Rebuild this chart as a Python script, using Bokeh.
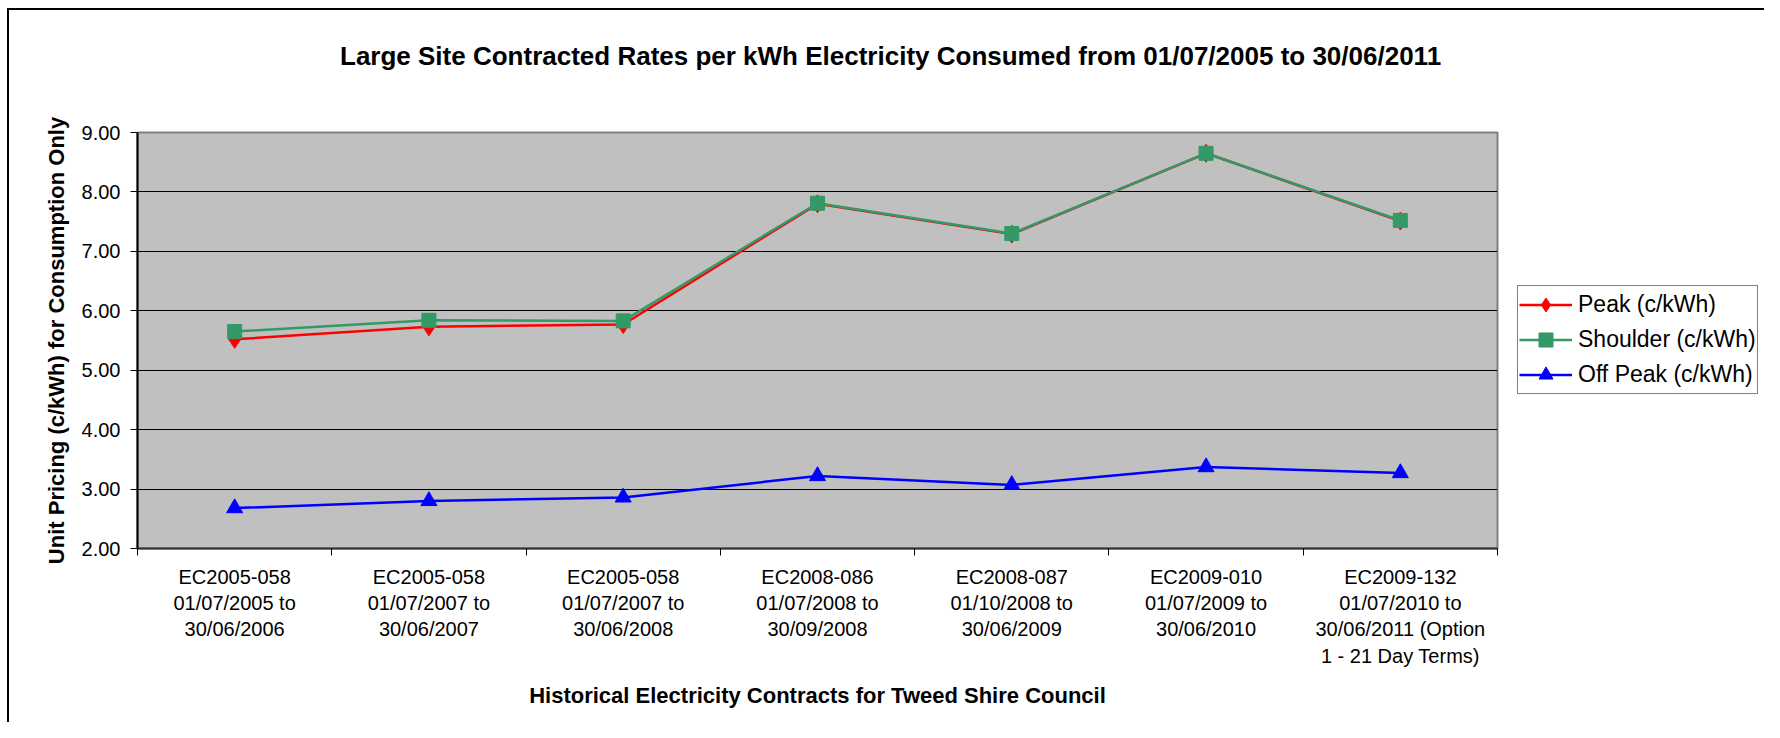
import numpy as np
from bokeh.plotting import figure
from bokeh.layouts import row, column
from bokeh.models import (Range1d, LinearAxis, FixedTicker, Div,
                          Legend, LegendItem, NumeralTickFormatter, ColumnDataSource)
from bokeh.embed import file_html
from bokeh.resources import INLINE

# ---------------- data ----------------
categories = [
    "EC2005-058\n01/07/2005 to\n30/06/2006",
    "EC2005-058\n01/07/2007 to\n30/06/2007",
    "EC2005-058\n01/07/2007 to\n30/06/2008",
    "EC2008-086\n01/07/2008 to\n30/09/2008",
    "EC2008-087\n01/10/2008 to\n30/06/2009",
    "EC2009-010\n01/07/2009 to\n30/06/2010",
    "EC2009-132\n01/07/2010 to\n30/06/2011 (Option\n1 - 21 Day Terms)",
]
peak = [5.52, 5.73, 5.77, 7.80, 7.29, 8.65, 7.51]
shoulder = [5.65, 5.84, 5.83, 7.81, 7.30, 8.65, 7.52]
off_peak = [2.68, 2.80, 2.86, 3.22, 3.07, 3.37, 3.27]
y_ticks = [2, 3, 4, 5, 6, 7, 8, 9]

title_text = "Large Site Contracted Rates per kWh Electricity Consumed from 01/07/2005 to 30/06/2011"
x_title = "Historical Electricity Contracts for Tweed Shire Council"
y_title = "Unit Pricing (c/kWh) for Consumption Only"
series_names = ["Peak (c/kWh)", "Shoulder (c/kWh)", "Off Peak (c/kWh)"]

FONT = "Liberation Sans"
COLORS = ["#FF0000", "#339966", "#0000FF"]
MARKERS = ["diamond", "square", "triangle"]
MSIZES = [18, 14, 16]
LW = 2.5

# category slots: each category occupies one unit, marks sit at slot centres
n = len(categories)
centres = [i + 0.5 for i in range(n)]
bounds = list(range(n + 1))

src = ColumnDataSource(dict(x=centres, peak=peak, shoulder=shoulder, off=off_peak))
cols = ["peak", "shoulder", "off"]

TITLE_H = 80
H = 722 - TITLE_H

# chart title (HTML text block above the plots)
title = Div(text=f'<div style="padding-top:42px;padding-left:340px;white-space:nowrap;'
                 f'font-family:\'{FONT}\';font-size:26px;font-weight:bold;line-height:29px;'
                 f'color:#000">{title_text}</div>',
            width=1764, height=TITLE_H, margin=(0, 0, 0, 0))

p = figure(x_range=Range1d(0, n), y_range=Range1d(y_ticks[0], y_ticks[-1]),
           width=1505, height=H, output_backend="svg", toolbar_location=None,
           x_axis_location=None, y_axis_location="left",
           min_border_left=137, min_border_right=8, min_border_top=132 - TITLE_H,
           min_border_bottom=174)

p.background_fill_color = "#C0C0C0"
p.border_fill_color = None
p.outline_line_color = "#808080"
p.outline_line_width = 2

# grid
p.xgrid.visible = False
p.ygrid.ticker = FixedTicker(ticks=y_ticks)
p.ygrid.grid_line_color = "black"
p.ygrid.grid_line_width = 1

# y axis
ya = p.yaxis[0]
ya.ticker = FixedTicker(ticks=y_ticks)
ya.formatter = NumeralTickFormatter(format="0.00")
ya.major_tick_out = 7
ya.major_tick_in = 0
ya.minor_tick_out = 0
ya.minor_tick_in = 0
ya.axis_line_color = "black"
ya.axis_line_width = 2
ya.major_tick_line_color = "black"
ya.major_label_text_font = FONT
ya.major_label_text_font_size = "20px"
ya.major_label_text_color = "black"
ya.major_label_standoff = 10
ya.axis_label = y_title
ya.axis_label_text_font = FONT
ya.axis_label_text_font_size = "22px"
ya.axis_label_text_font_style = "bold"
ya.axis_label_text_color = "black"
ya.axis_label_standoff = 10

# x axis: labels at slot centres, tick marks at slot boundaries
xa = LinearAxis(ticker=FixedTicker(ticks=centres, minor_ticks=bounds),
                major_label_overrides={c: lab for c, lab in zip(centres, categories)},
                major_tick_out=0, major_tick_in=0,
                minor_tick_out=7, minor_tick_in=0,
                minor_tick_line_color="black", minor_tick_line_width=1,
                axis_line_color="#303030", axis_line_width=2,
                major_label_standoff=10,
                major_label_text_font=FONT, major_label_text_font_size="20px",
                major_label_text_color="black",
                major_label_text_line_height=1.2,
                axis_label=x_title, axis_label_text_font=FONT,
                axis_label_text_font_size="22px", axis_label_text_font_style="bold",
                axis_label_text_color="black", axis_label_standoff=13)
p.add_layout(xa, "below")

# series
for col, c, m, s in zip(cols, COLORS, MARKERS, MSIZES):
    p.line("x", col, source=src, line_color=c, line_width=LW)
    p.scatter("x", col, source=src, marker=m, size=s, fill_color=c, line_color=c)

# legend panel to the right of the chart: same series, drawn against ranges that keep
# them out of view, so only the legend entries show
lp = figure(x_range=Range1d(-20, -10), y_range=Range1d(-20, -10),
            width=259, height=H, output_backend="svg", toolbar_location=None,
            x_axis_location=None, y_axis_location=None,
            min_border_left=0, min_border_right=0, min_border_top=0, min_border_bottom=0)
lp.xgrid.visible = False
lp.ygrid.visible = False
lp.outline_line_color = None
lp.background_fill_color = None
lp.border_fill_color = None

items = []
for name, col, c, m, s in zip(series_names, cols, COLORS, MARKERS, MSIZES):
    rl = lp.line("x", col, source=src, line_color=c, line_width=LW)
    rm = lp.scatter("x", col, source=src, marker=m, size=s, fill_color=c, line_color=c)
    items.append(LegendItem(label=name, renderers=[rl, rm]))

legend = Legend(items=items, location=(12, 154))
legend.margin = 0
legend.padding = 1
legend.spacing = 0
legend.label_height = 35
legend.glyph_height = 35
legend.glyph_width = 53
legend.label_standoff = 6
legend.label_text_font = FONT
legend.label_text_font_size = "23px"
legend.label_text_color = "black"
legend.border_line_color = "black"
legend.border_line_width = 1
legend.background_fill_color = "white"
legend.background_fill_alpha = 1
lp.add_layout(legend, "center")

layout = column(title, row(p, lp, spacing=0), spacing=0)
# outer chart-area border (only its left and top edges fall inside the picture)
layout.styles = {"background": "linear-gradient(#000,#000) 7px 8px / 2px 100% no-repeat, "
                               "linear-gradient(#000,#000) 7px 8px / 100% 2px no-repeat, #ffffff"}

open("out.html", "w").write(file_html(layout, INLINE))
